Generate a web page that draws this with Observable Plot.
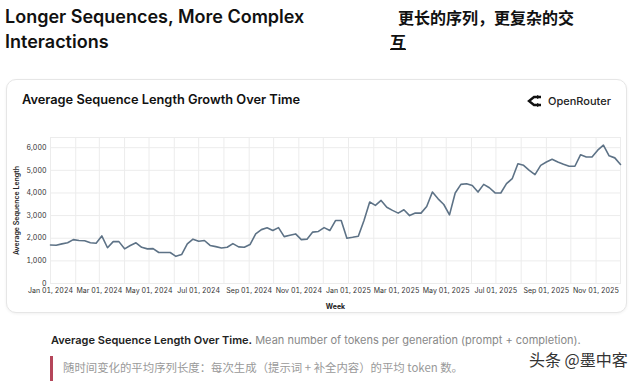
<!DOCTYPE html>
<html>
<head>
<meta charset="utf-8">
<script src="https://cdn.jsdelivr.net/npm/d3@7"></script>
<script src="https://cdn.jsdelivr.net/npm/@observablehq/plot@0.6"></script>
<style>
  html, body { margin: 0; padding: 0; background: #fff; }
  body { width: 640px; height: 383px; position: relative; overflow: hidden; font-family: Inter, "Noto Sans", sans-serif; }
  .abs { position: absolute; white-space: nowrap; }
  #title { left: 5px; top: 4px; font-size: 18px; font-weight: 600; line-height: 25px; color: #111; }
  #titleZh1 { left: 398px; top: 5px; font-family: "Noto Sans CJK SC"; font-size: 16px; font-weight: 700; line-height: 25px; color: #111; }
  #titleZh2 { left: 390px; top: 29px; font-family: "Noto Sans CJK SC"; font-size: 16px; font-weight: 700; line-height: 25px; color: #111; }
  #card { position: absolute; left: 6px; top: 79px; width: 619px; height: 232px; border: 1px solid #e6e6e6; border-radius: 10px; box-shadow: 0 1px 3px rgba(0,0,0,0.06); background: #fff; }
  #cardTitle { left: 22px; top: 92px; font-size: 12.8px; font-weight: 600; color: #111; }
  #logo { left: 527px; top: 94px; font-size: 11px; font-weight: 500; color: #222; display: flex; align-items: center; gap: 6px; }
  #chart { position: absolute; left: 0; top: 130px; }
  #chart text { fill: #333; }
  #chart g[aria-label="x-axis label"] text { font-weight: 700; fill: #222; }
  #chart g[aria-label="y-axis label"] text { font-weight: 600; fill: #222; }
  #caption { left: 51px; top: 333px; font-size: 11px; color: #888; }
  #caption b { color: #222; font-weight: 600; }
  #bar { position: absolute; left: 50px; top: 356px; width: 3px; height: 25px; background: #b5465a; }
  #zh { left: 63px; top: 359px; font-family: "Noto Sans CJK SC"; font-size: 11.4px; color: #999; }
  #wm { left: 529px; top: 347px; font-family: "Noto Sans CJK SC"; font-size: 16px; color: #333; }
</style>
</head>
<body>
<div id="title" class="abs">Longer Sequences, More Complex<br>Interactions</div>
<div id="titleZh1" class="abs">更长的序列，更复杂的交</div>
<div id="titleZh2" class="abs"><span style="text-decoration: underline;">互</span></div>
<div id="card"></div>
<div id="cardTitle" class="abs">Average Sequence Length Growth Over Time</div>
<div id="logo" class="abs">
  <svg width="15" height="12" viewBox="0 0 15 12"><path d="M14 2 L7 2 L2 6 L7 10 L14 10" fill="none" stroke="#111" stroke-width="2.4"/><path d="M10 0 L14 2 L10 4 Z M10 8 L14 10 L10 12 Z" fill="#111"/></svg>
  <span>OpenRouter</span>
</div>
<div id="chart"></div>
<div id="caption" class="abs"><b>Average Sequence Length Over Time.</b> Mean number of tokens per generation (prompt + completion).</div>
<div id="bar"></div>
<div id="zh" class="abs">随时间变化的平均序列长度：每次生成（提示词 + 补全内容）的平均 token 数。</div>
<div id="wm" class="abs">头条 @墨中客</div>
<script>
const startWeek = "2024-01-01";
const values = [
  1700, 1690, 1750, 1800, 1940, 1900, 1890, 1800, 1780, 2100,
  1580, 1850, 1850, 1530, 1680, 1800, 1600, 1530, 1540, 1370,
  1370, 1370, 1200, 1280, 1750, 1960, 1870, 1900, 1680, 1630,
  1570, 1600, 1760, 1620, 1600, 1720, 2190, 2380, 2460, 2340,
  2470, 2070, 2130, 2190, 1940, 1960, 2270, 2300, 2470, 2340,
  2780, 2780, 2000, 2040, 2090, 2780, 3600, 3450, 3670, 3370,
  3230, 3110, 3260, 3000, 3110, 3110, 3400, 4040, 3740, 3490,
  3030, 4000, 4380, 4410, 4330, 4040, 4380, 4230, 4000, 4000,
  4410, 4630, 5290, 5220, 5000, 4810, 5220, 5370, 5490, 5370,
  5270, 5180, 5180, 5690, 5590, 5590, 5890, 6110, 5640, 5550,
  5260
];
const yTicks = [0, 1000, 2000, 3000, 4000, 5000, 6000];
const xTickLabels = ["Jan 01, 2024", "Mar 01, 2024", "May 01, 2024", "Jul 01, 2024", "Sep 01, 2024", "Nov 01, 2024",
                     "Jan 01, 2025", "Mar 01, 2025", "May 01, 2025", "Jul 01, 2025", "Sep 01, 2025", "Nov 01, 2025"];
const xDomainEnd = "2025-12-01";
const yDomainMax = 6450;

const start = new Date(startWeek + "T00:00:00Z");
const data = values.map((v, i) => ({week: d3.utcDay.offset(start, 7 * i), value: v}));
const parseLabel = d3.utcParse("%b %d, %Y");
const xTicks = xTickLabels.map(parseLabel);
const end = new Date(xDomainEnd + "T00:00:00Z");
const monthGrid = d3.utcMonth.range(start, d3.utcDay.offset(end, 1));

const chart = Plot.plot({
  width: 640,
  height: 183,
  marginLeft: 50,
  marginRight: 20,
  marginTop: 7,
  marginBottom: 30,
  style: {fontFamily: "Inter, sans-serif", fontSize: "7px", color: "#333", background: "transparent", overflow: "visible"},
  x: {type: "utc", domain: [start, end]},
  y: {domain: [0, yDomainMax]},
  marks: [
    Plot.gridX(monthGrid, {stroke: "#ececec", strokeOpacity: 1}),
    Plot.gridY(yTicks, {stroke: "#ececec", strokeOpacity: 1}),
    Plot.frame({stroke: "#ececec"}),
    Plot.axisY(yTicks, {tickSize: 0, tickPadding: 4, tickFormat: d3.format(","), label: "Average Sequence Length", labelAnchor: "center", labelArrow: "none", labelOffset: 36}),
    Plot.axisX(xTicks, {tickSize: 0, tickPadding: 5, tickFormat: d3.utcFormat("%b %d, %Y"), label: "Week", labelAnchor: "center", labelArrow: "none", labelOffset: 25}),
    Plot.line(data, {x: "week", y: "value", stroke: "#5d7286", strokeWidth: 1.6})
  ]
});
document.getElementById("chart").appendChild(chart);
</script>
</body>
</html>
